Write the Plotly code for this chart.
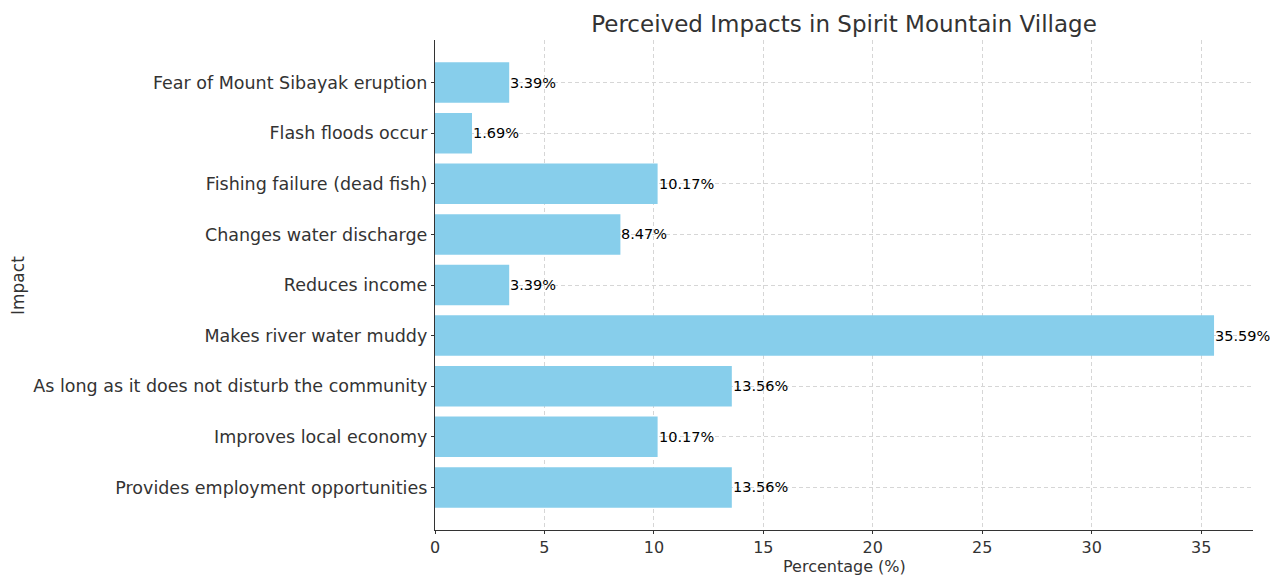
import plotly.graph_objects as go

impacts = [
    "Provides employment opportunities",
    "Improves local economy",
    "As long as it does not disturb the community",
    "Makes river water muddy",
    "Reduces income",
    "Changes water discharge",
    "Fishing failure (dead fish)",
    "Flash floods occur",
    "Fear of Mount Sibayak eruption",
]
percentages = [13.56, 10.17, 13.56, 35.59, 3.39, 8.47, 10.17, 1.69, 3.39]
labels = [f"{v:.2f}%" for v in percentages]

FONT = "DejaVu Sans"
W, H = 1270, 575
L, R, T, B = 435, 17, 40, 45

fig = go.Figure(
    go.Bar(
        x=percentages,
        y=impacts,
        orientation="h",
        width=0.8,
        marker=dict(color="#87CEEB", line=dict(width=0)),
        hoverinfo="x+y",
    )
)

for v, cat, lab in zip(percentages, impacts, labels):
    fig.add_annotation(
        x=v, y=cat, xref="x", yref="y",
        text=lab, showarrow=False,
        xanchor="left", yanchor="middle", xshift=-1,
        font=dict(family=FONT, size=14.5, color="#000000"),
    )

fig.add_annotation(
    x=(18 - L) / (W - L - R), y=0.5, xref="paper", yref="paper",
    text="Impact", textangle=-90, showarrow=False,
    xanchor="center", yanchor="middle",
    font=dict(family=FONT, size=17, color="#333333"),
)

fig.add_annotation(
    x=0.5, y=-(566 - (H - B)) / (H - T - B), xref="paper", yref="paper",
    text="Percentage (%)", showarrow=False,
    xanchor="center", yanchor="middle",
    font=dict(family=FONT, size=16, color="#333333"),
)

fig.update_layout(
    width=W,
    height=H,
    margin=dict(l=L, r=R, t=T, b=B, autoexpand=False),
    paper_bgcolor="white",
    plot_bgcolor="white",
    font=dict(family=FONT, size=17, color="#333333"),
    title=dict(
        text="Perceived Impacts in Spirit Mountain Village",
        x=(L + (W - R)) / 2 / W,
        xanchor="center",
        y=1 - 24 / H,
        yanchor="middle",
        font=dict(family=FONT, size=23, color="#333333"),
    ),
    showlegend=False,
    bargap=0.2,
)

fig.update_xaxes(
    range=[0, 37.37],
    tickmode="array",
    tickvals=[0, 5, 10, 15, 20, 25, 30, 35],
    showgrid=True,
    gridcolor="#d6d6d6",
    griddash="4px,3px",
    gridwidth=1,
    showline=True,
    linecolor="#333333",
    linewidth=1.3,
    ticks="outside",
    ticklen=3,
    tickcolor="#333333",
    tickfont=dict(family=FONT, size=16, color="#333333"),
    zeroline=False,
    automargin=False,
)

fig.update_yaxes(
    range=[-0.84, 8.84],
    categoryorder="array",
    categoryarray=impacts,
    showgrid=True,
    gridcolor="#d6d6d6",
    griddash="4px,3px",
    gridwidth=1,
    showline=True,
    linecolor="#333333",
    linewidth=1.3,
    ticks="outside",
    ticklen=3,
    tickcolor="#333333",
    tickfont=dict(family=FONT, size=17.5, color="#333333"),
    zeroline=False,
    automargin=False,
)

fig.write_html(
    "out.html",
    config={"displayModeBar": False},
    post_script="document.body.style.margin='0';document.body.style.overflow='hidden';",
)
